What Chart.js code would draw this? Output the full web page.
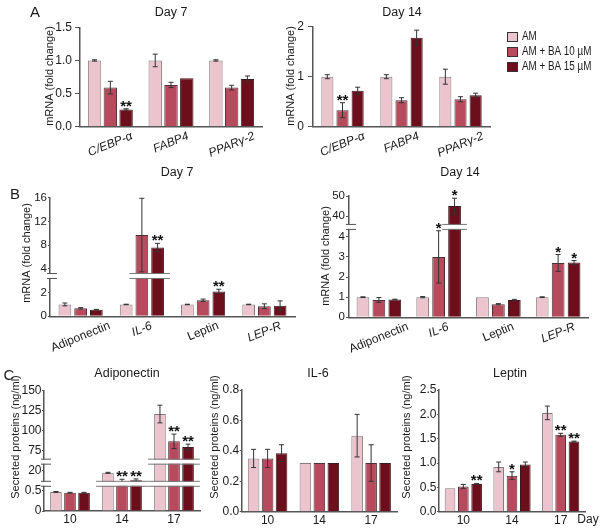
<!DOCTYPE html>
<html>
<head>
<meta charset="utf-8">
<script src="https://cdn.jsdelivr.net/npm/chart.js@4.4.0/dist/chart.umd.min.js"></script>
<style>
  html, body { margin: 0; padding: 0; background: #fff; }
  #wrap { position: relative; width: 600px; height: 531px; overflow: hidden; }
  #wrap canvas { position: absolute; left: 0; top: 0; }
</style>
</head>
<body>
<div id="wrap">
  <canvas id="a7" width="600" height="531"></canvas>
  <canvas id="a14" width="600" height="531"></canvas>
  <canvas id="b7" width="600" height="531"></canvas>
  <canvas id="b14" width="600" height="531"></canvas>
  <canvas id="cAdipo" width="600" height="531"></canvas>
  <canvas id="cIl6" width="600" height="531"></canvas>
  <canvas id="cLep" width="600" height="531"></canvas>
</div>
<script>
// ---- data (rows = AM, AM + BA 10 µM, AM + BA 15 µM) ----
const seriesNames = ['AM', 'AM + BA 10 µM', 'AM + BA 15 µM'];
const genesA = ['C/EBP-α', 'FABP4', 'PPARγ-2'];
const genesB = ['Adiponectin', 'IL-6', 'Leptin', 'LEP-R'];
const days = ['10', '14', '17'];

const a7Mean = [[1.0, 1.0, 1.0], [0.59, 0.63, 0.59], [0.26, 0.73, 0.72]];
const a7Err = [[0.01, 0.095, 0.01], [0.095, 0.04, 0.035], [0.01, 0, 0.045]];
const a7Stars = [['', '', ''], ['', '', ''], ['**', '', '']];
const a7Ticks = ['0.0', '0.5', '1.0', '1.5'];

const a14Mean = [[1.0, 1.0, 1.0], [0.33, 0.53, 0.55], [0.72, 1.78, 0.63]];
const a14Err = [[0.04, 0.04, 0.15], [0.15, 0.05, 0.05], [0.07, 0.15, 0.04]];
const a14Stars = [['', '', ''], ['**', '', ''], ['', '', '']];
const a14Ticks = ['0', '1', '2'];

const b7Mean = [[1.0, 1.0, 1.0, 1.0], [0.67, 9.7, 1.35, 0.85], [0.56, 7.6, 2.1, 0.9]];
const b7Err = [[0.12, 0.02, 0.02, 0.02], [0.06, 6.2, 0.1, 0.2], [0.02, 0.7, 0.18, 0.4]];
const b7Stars = [['', '', '', ''], ['', '', '', ''], ['', '**', '**', '']];
const b7Ticks = ['0', '2', '4', '8', '12', '16'];

const b14Mean = [[1.0, 1.0, 1.0, 1.0], [0.86, 3.0, 0.65, 2.7], [0.88, 45, 0.86, 2.72]];
const b14Err = [[0.02, 0.03, 0, 0.02], [0.12, 1.3, 0.03, 0.42], [0.02, 3.9, 0.03, 0.1]];
const b14Stars = [['', '', '', ''], ['', '*', '', '*'], ['', '*', '', '*']];
const b14Ticks = ['0', '1', '2', '3', '4', '40', '50'];

const adipoMean = [[0.47, 18.6, 121], [0.45, 12.9, 87], [0.45, 14.2, 80]];
const adipoErr = [[0.01, 0.3, 11], [0.01, 1.9, 9], [0.01, 0.8, 3.5]];
const adipoStars = [['', '', ''], ['', '**', '**'], ['', '**', '**']];
const adipoTicks = ['0', '0.5', '20', '75', '100', '125', '150'];

const il6Mean = [[0.35, 0.32, 0.5], [0.35, 0.32, 0.32], [0.385, 0.32, 0.32]];
const il6Err = [[0.06, 0, 0.14], [0.06, 0, 0.12], [0.055, 0, 0]];
const il6Stars = [['', '', ''], ['', '', ''], ['', '', '']];
const il6Ticks = ['0.0', '0.2', '0.4', '0.6', '0.8'];

const lepMean = [[0.48, 0.92, 2.03], [0.52, 0.74, 1.58], [0.57, 0.97, 1.44]];
const lepErr = [[0, 0.1, 0.14], [0.04, 0.08, 0.03], [0.01, 0.05, 0.01]];
const lepStars = [['', '', ''], ['', '*', '**'], ['**', '', '**']];
const lepTicks = ['0.0', '0.5', '1.0', '1.5', '2.0', '2.5'];

// ---- styling ----
const fills = ['#ecc4cd', '#b84a5d', '#6c0e1c'];
const edges = ['#857a7d', '#4d3035', '#3a1a1e'];
const axisCol = '#555';
const textCol = '#1a1a1a';
const FONT = '"Liberation Sans", Arial, sans-serif';
Chart.defaults.font.family = FONT;
Chart.defaults.font.size = 12;
Chart.defaults.color = textCol;

// segs: [valueMin, valueMax, fracFrom, fracTo] of the y axis (broken axes)
// tick: [tick mark length, label padding, label font size]
const panels = {
  a7: { cats: genesA, mean: a7Mean, err: a7Err, stars: a7Stars, ticks: a7Ticks,
        segs: [[0, 1.5, 0, 1]], plot: [80, 27.3, 262, 126.7], cat: 0.78, bar: 0.85, tick: [5, 3, 12],
        title: ['Day 7', 171, 13], ylab: ['mRNA (fold change)', 50, 76], letter: ['A', 35, 13],
        rotate: true, italic: [1, 1, 1] },
  a14: { cats: genesA, mean: a14Mean, err: a14Err, stars: a14Stars, ticks: a14Ticks,
        segs: [[0, 2, 0, 1]], plot: [313, 26.7, 490, 126.7], cat: 0.77, bar: 0.8, tick: [5, 4, 12],
        title: ['Day 14', 402, 13], ylab: ['mRNA (fold change)', 291, 76],
        rotate: true, italic: [1, 1, 1], legend: true },
  b7: { cats: genesB, mean: b7Mean, err: b7Err, stars: b7Stars, ticks: b7Ticks,
        segs: [[0, 3.3, 0, 0.33], [3, 16, 0.35, 1]], plot: [50, 197.7, 295, 316.3], cat: 0.77, bar: 0.81, tick: [2, 1, 11.5],
        title: ['Day 7', 177, 173], ylab: ['mRNA (fold change)', 27, 253], letter: ['B', 15, 195],
        rotate: true, italic: [0, 1, 0, 1] },
  b14: { cats: genesB, mean: b14Mean, err: b14Err, stars: b14Stars, ticks: b14Ticks,
        segs: [[0, 4.4, 0, 0.73], [35.5, 50, 0.76, 1]], plot: [349, 196, 588, 317.3], cat: 0.8, bar: 0.8, tick: [3, 1, 11.5],
        title: ['Day 14', 460, 173], ylab: ['mRNA (fold change)', 326, 256],
        rotate: true, italic: [0, 1, 0, 1] },
  cAdipo: { cats: days, mean: adipoMean, err: adipoErr, stars: adipoStars, ticks: adipoTicks,
        segs: [[0, 0.64, 0, 0.216], [12.8, 24.5, 0.236, 0.4], [63.2, 150, 0.42, 1]],
        plot: [44, 390.7, 200, 511], cat: 0.81, bar: 0.83, tick: [2, 0.5, 12],
        title: ['Adiponectin', 127, 374], ylab: ['Secreted proteins (ng/ml)', 16, 437], letter: ['C', 9, 376] },
  cIl6: { cats: days, mean: il6Mean, err: il6Err, stars: il6Stars, ticks: il6Ticks,
        segs: [[0, 0.8, 0, 1]], plot: [241.7, 390, 397, 511.7], cat: 0.81, bar: 0.83, tick: [2, 0.5, 12],
        title: ['IL-6', 318, 374], ylab: ['Secreted proteins (ng/ml)', 215, 437] },
  cLep: { cats: days, mean: lepMean, err: lepErr, stars: lepStars, ticks: lepTicks,
        segs: [[0, 2.5, 0, 1]], plot: [439, 390, 585, 511.7], cat: 0.82, bar: 0.8, tick: [2, 0.5, 12],
        title: ['Leptin', 510, 374], ylab: ['Secreted proteins (ng/ml)', 407, 437], dayLabel: true }
};

// linear scale with a piecewise (broken) value -> pixel mapping
class BrokenScale extends Chart.LinearScale {
  static id = 'broken';
  static defaults = {};
  buildTicks() {
    this.start = this.min;
    this.end = this.max;
    return panels[this.chart.canvas.id].ticks.map(t => ({ value: parseFloat(t) }));
  }
  getPixelForValue(v) {
    const segs = panels[this.chart.canvas.id].segs;
    const s = segs.find(g => v <= g[1]) || segs[segs.length - 1];
    return this.getPixelForDecimal(s[2] + (v - s[0]) / (s[1] - s[0]) * (s[3] - s[2]));
  }
  getValueForPixel(px) {
    const segs = panels[this.chart.canvas.id].segs;
    const d = this.getDecimalForPixel(px);
    const s = segs.find(g => d <= g[3]) || segs[segs.length - 1];
    return s[0] + (d - s[2]) / (s[3] - s[2]) * (s[1] - s[0]);
  }
}
Chart.register(BrokenScale);

function hline(ctx, x0, x1, y) {
  ctx.beginPath(); ctx.moveTo(x0, y); ctx.lineTo(x1, y); ctx.stroke();
}

const decor = {
  id: 'panelDecor',
  afterDatasetsDraw(chart) {
    const p = panels[chart.canvas.id];
    const ctx = chart.ctx, ys = chart.scales.y;
    ctx.save();
    // error bars
    ctx.strokeStyle = '#333';
    ctx.lineWidth = 1;
    p.mean.forEach((vals, k) => {
      const meta = chart.getDatasetMeta(k);
      vals.forEach((v, i) => {
        const e = p.err[k][i];
        if (!e) return;
        const bar = meta.data[i];
        const yt = ys.getPixelForValue(v + e), yb = ys.getPixelForValue(Math.max(v - e, 0));
        ctx.beginPath(); ctx.moveTo(bar.x, yb); ctx.lineTo(bar.x, yt); ctx.stroke();
        hline(ctx, bar.x - 2.5, bar.x + 2.5, yt);
        hline(ctx, bar.x - 2.5, bar.x + 2.5, yb);
      });
    });
    // break bands across bars that pass a break
    for (let b = 0; b < p.segs.length - 1; b++) {
      const limit = p.segs[b][1];
      const yb = ys.getPixelForDecimal((p.segs[b][3] + p.segs[b + 1][2]) / 2);
      p.cats.forEach((c, i) => {
        let x0 = Infinity, x1 = -Infinity;
        p.mean.forEach((vals, k) => {
          if (vals[i] > limit) {
            const bar = chart.getDatasetMeta(k).data[i];
            x0 = Math.min(x0, bar.x - bar.width / 2);
            x1 = Math.max(x1, bar.x + bar.width / 2);
          }
        });
        if (x0 === Infinity) return;
        x0 -= 6; x1 += 6;
        ctx.fillStyle = '#fff';
        ctx.fillRect(x0, yb - 2, x1 - x0, 4);
        ctx.strokeStyle = '#777';
        hline(ctx, x0, x1, yb - 2.5);
        hline(ctx, x0, x1, yb + 2.5);
      });
    }
    // significance stars
    ctx.fillStyle = '#111';
    ctx.font = 'bold 15px ' + FONT;
    ctx.textAlign = 'center';
    ctx.textBaseline = 'alphabetic';
    p.stars.forEach((row, k) => {
      const meta = chart.getDatasetMeta(k);
      row.forEach((s, i) => {
        if (!s) return;
        const bar = meta.data[i];
        const top = ys.getPixelForValue(p.mean[k][i] + p.err[k][i]);
        ctx.fillText(s, bar.x, top + 2);
      });
    });
    ctx.restore();
  },
  afterDraw(chart) {
    const p = panels[chart.canvas.id];
    const ctx = chart.ctx, ys = chart.scales.y, xs = chart.scales.x;
    const area = chart.chartArea;
    ctx.save();
    // "=" marks where the y axis is broken
    for (let b = 0; b < p.segs.length - 1; b++) {
      const yb = ys.getPixelForDecimal((p.segs[b][3] + p.segs[b + 1][2]) / 2);
      ctx.fillStyle = '#fff';
      ctx.fillRect(area.left - 2, yb - 2, 5, 4);
      ctx.strokeStyle = axisCol;
      ctx.lineWidth = 1;
      hline(ctx, area.left - 3, area.left + 7, yb - 2.5);
      hline(ctx, area.left - 3, area.left + 7, yb + 2.5);
    }
    ctx.fillStyle = textCol;
    ctx.textAlign = 'center';
    ctx.textBaseline = 'middle';
    // title
    ctx.font = '12.5px ' + FONT;
    ctx.fillText(p.title[0], p.title[1], p.title[2]);
    // panel letter
    if (p.letter) {
      ctx.font = '15px ' + FONT;
      ctx.fillText(p.letter[0], p.letter[1], p.letter[2]);
    }
    // y axis label
    ctx.font = '11px ' + FONT;
    ctx.save();
    ctx.translate(p.ylab[1], p.ylab[2]);
    ctx.rotate(-Math.PI / 2);
    ctx.fillText(p.ylab[0], 0, 0);
    ctx.restore();
    // category labels under the x axis
    if (p.rotate) {
      const th = 22 * Math.PI / 180;
      p.cats.forEach((c, i) => {
        ctx.font = (p.italic[i] ? 'italic ' : '') + '12px ' + FONT;
        const w = ctx.measureText(c).width;
        ctx.save();
        ctx.translate(xs.getPixelForValue(i), area.bottom + 9 + w / 2 * Math.sin(th));
        ctx.rotate(-th);
        ctx.fillText(c, 0, 0);
        ctx.restore();
      });
    } else {
      ctx.font = '12px ' + FONT;
      p.cats.forEach((c, i) => ctx.fillText(c, xs.getPixelForValue(i), area.bottom + 9));
    }
    if (p.dayLabel) {
      ctx.font = '12px ' + FONT;
      ctx.fillText('Day', 588, 520);
    }
    if (p.legend) {
      seriesNames.forEach((s, k) => {
        const y = 32 + k * 15;
        ctx.fillStyle = fills[k];
        ctx.fillRect(507, y, 10, 9);
        ctx.strokeStyle = '#333';
        ctx.lineWidth = 1;
        ctx.strokeRect(507.5, y + 0.5, 10, 9);
        ctx.fillStyle = textCol;
        ctx.save();
        ctx.translate(522, y + 5);
        ctx.scale(0.82, 1);
        ctx.font = '12px ' + FONT;
        ctx.textAlign = 'left';
        ctx.fillText(s, 0, 0);
        ctx.restore();
      });
    }
    ctx.restore();
  }
};

function build(id) {
  const p = panels[id];
  const [l, t, r, b] = p.plot;
  new Chart(document.getElementById(id), {
    type: 'bar',
    data: {
      labels: p.cats,
      datasets: p.mean.map((vals, k) => ({
        label: seriesNames[k],
        data: vals,
        backgroundColor: fills[k],
        borderColor: edges[k],
        borderWidth: 1,
        categoryPercentage: p.cat,
        barPercentage: p.bar
      }))
    },
    options: {
      responsive: false,
      animation: false,
      events: [],
      layout: { padding: { left: 0, top: t, right: 600 - r, bottom: 0 } },
      plugins: { legend: { display: false }, tooltip: { enabled: false } },
      scales: {
        x: {
          type: 'category',
          offset: true,
          grid: { display: false },
          border: { color: axisCol, width: 1.5 },
          ticks: { display: false },
          afterFit: s => { s.height = 531 - b; }
        },
        y: {
          type: 'broken',
          min: p.segs[0][0],
          max: p.segs[p.segs.length - 1][1],
          grid: { display: true, drawOnChartArea: false, drawTicks: true, tickLength: p.tick[0], color: axisCol, lineWidth: 1 },
          border: { color: axisCol, width: 1.5 },
          ticks: { autoSkip: false, callback: (v, i) => p.ticks[i], color: textCol, font: { size: p.tick[2] }, padding: p.tick[1] },
          afterFit: s => { s.width = l; }
        }
      }
    },
    plugins: [decor]
  });
}

Object.keys(panels).forEach(build);
</script>
</body>
</html>
